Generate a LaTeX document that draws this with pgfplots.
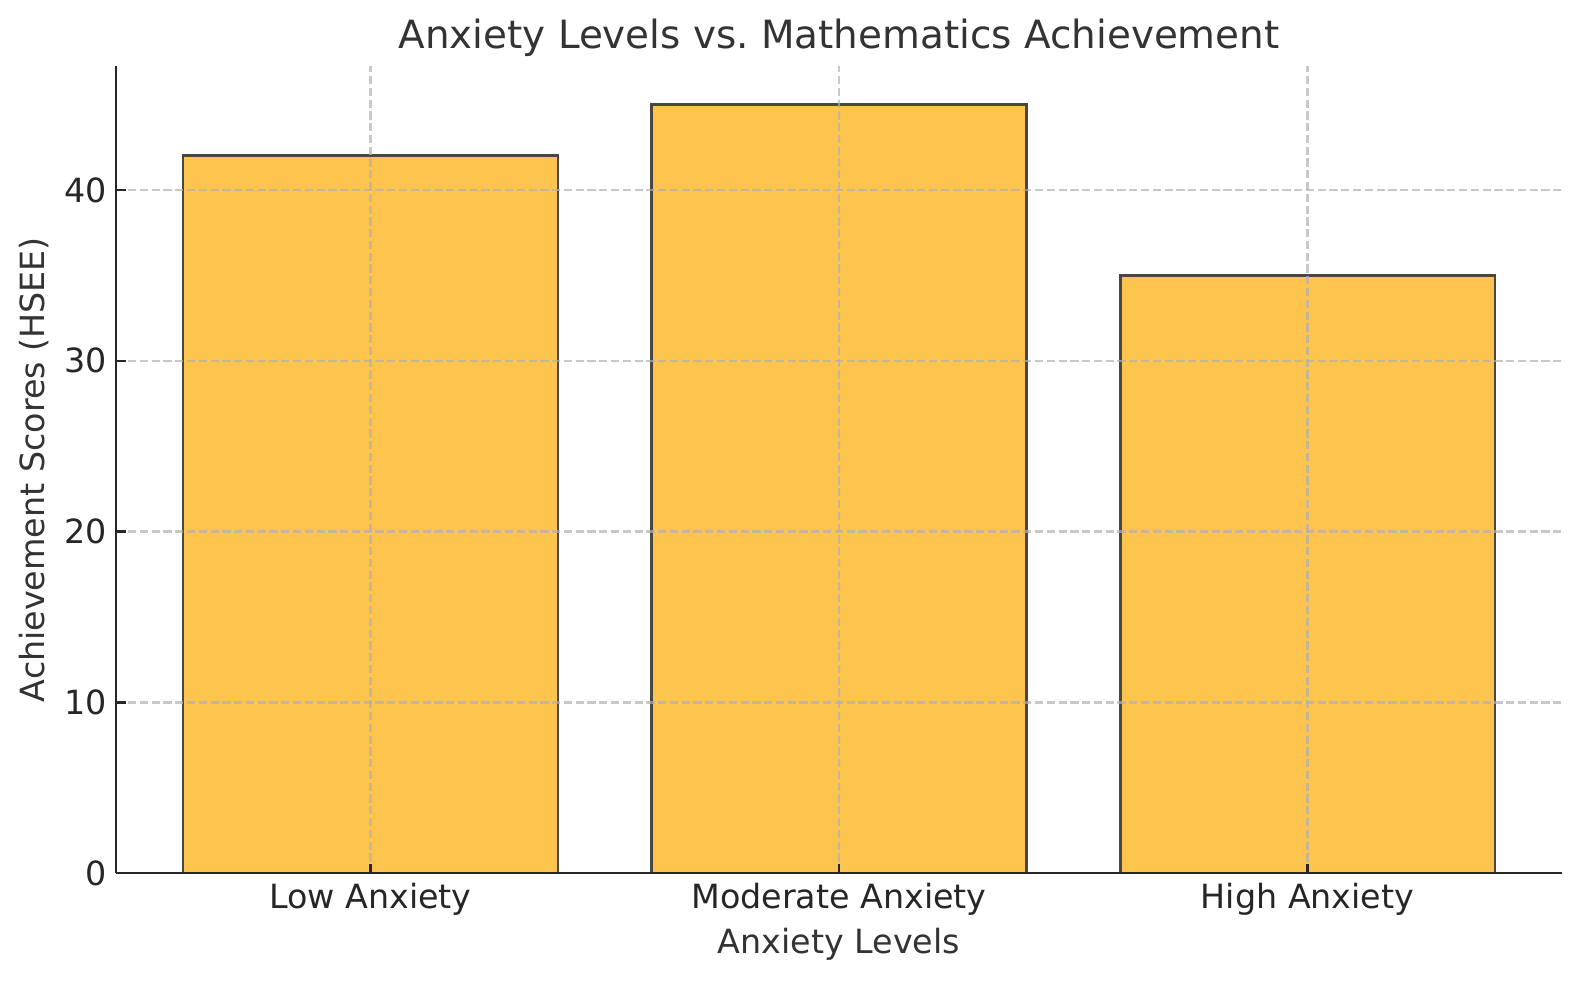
\documentclass[border=0pt]{standalone}
\usepackage{pgfplots}
\pgfplotsset{compat=1.18}
\usepackage{fontspec}
\setmainfont{DejaVu Sans}
\usetikzlibrary{calc}

\definecolor{barfill}{HTML}{FDC54D}
\definecolor{baredge}{HTML}{4A4740}
\definecolor{gridgray}{HTML}{B0B0B0}
\definecolor{textgray}{HTML}{333333}

\begin{document}
\begin{tikzpicture}
  \begin{axis}[
      scale only axis,
      width=520.34pt, height=290.63pt,
      xmin=-0.5425, xmax=2.5425,
      ymin=0, ymax=47.25,
      axis on top,
      axis x line=bottom, axis y line=left,
      axis line style={-, line width=0.8pt, black!85},
      xtick={0,1,2},
      xticklabels={Low Anxiety, Moderate Anxiety, High Anxiety},
      ytick={0,10,20,30,40},
      tick align=inside,
      major tick length=3.5pt,
      tick style={line width=0.8pt, black!85},
      ticklabel style={font=\fontsize{12}{14}\selectfont, text=black!85},
      xticklabel style={anchor=base, yshift=-12.5pt},
      /pgf/number format/assume math mode=true,
      xmajorgrids, ymajorgrids,
      grid style={gridgray, draw opacity=0.7, line width=0.8pt, dash pattern=on 2.96pt off 1.28pt},
      xlabel={Anxiety Levels},
      ylabel={Achievement Scores (HSEE)},
      label style={font=\fontsize{12}{14}\selectfont, text=textgray},
      xlabel style={at={(rel axis cs:0.5,0)}, anchor=base, yshift=-28.7pt},
      ylabel style={at={(rel axis cs:0,0.5)}, anchor=base, yshift=25.7pt},
      title={Anxiety Levels vs.\ Mathematics Achievement},
      title style={font=\fontsize{14}{16}\selectfont, text=textgray,
        at={(rel axis cs:0.5,1)}, anchor=base, yshift=0.3pt},
    ]
    \addplot[ybar, bar width=0.8, bar shift=0pt, fill=barfill, draw=baredge, line width=1pt]
      coordinates {(0,42) (1,45) (2,35)};
    \coordinate (bl) at (rel axis cs:0,0);
    \coordinate (tr) at (rel axis cs:1,1);
  \end{axis}
  \pgfresetboundingbox
  \path ($(bl)+(-41.87pt,-38.41pt)$) rectangle ($(tr)+(6.59pt,23.76pt)$);
\end{tikzpicture}
\end{document}
